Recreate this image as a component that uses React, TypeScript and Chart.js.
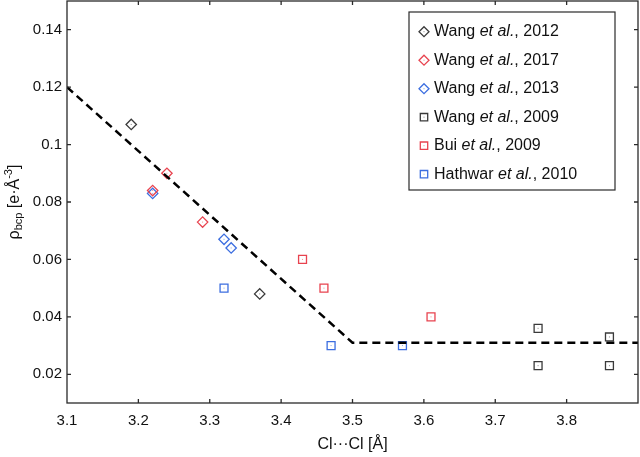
import React, { useEffect, useRef } from "react";
import { Chart, registerables } from "chart.js";

Chart.register(...registerables);

// ---- data ----
const wang2012 = [
  { x: 3.19, y: 0.107 },
  { x: 3.37, y: 0.048 },
];
const wang2017 = [
  { x: 3.24, y: 0.09 },
  { x: 3.22, y: 0.084 },
  { x: 3.29, y: 0.073 },
];
const wang2013 = [
  { x: 3.22, y: 0.083 },
  { x: 3.32, y: 0.067 },
  { x: 3.33, y: 0.064 },
];
const wang2009 = [
  { x: 3.76, y: 0.036 },
  { x: 3.76, y: 0.023 },
  { x: 3.86, y: 0.033 },
  { x: 3.86, y: 0.023 },
];
const bui2009 = [
  { x: 3.43, y: 0.06 },
  { x: 3.46, y: 0.05 },
  { x: 3.61, y: 0.04 },
];
const hathwar2010 = [
  { x: 3.32, y: 0.05 },
  { x: 3.47, y: 0.03 },
  { x: 3.57, y: 0.03 },
];
const fitLine = [
  { x: 3.1, y: 0.12 },
  { x: 3.5, y: 0.031 },
  { x: 3.9, y: 0.031 },
];

const xTickValues = [3.1, 3.2, 3.3, 3.4, 3.5, 3.6, 3.7, 3.8];
const yTickValues = [0.02, 0.04, 0.06, 0.08, 0.1, 0.12, 0.14];

const legendAuthors = ["Wang", "Wang", "Wang", "Wang", "Bui", "Hathwar"];
const legendYears = ["2012", "2017", "2013", "2009", "2009", "2010"];

const BLACK = "#3a3a3a";
const RED = "#e8434f";
const BLUE = "#3c6ee0";
const FONT = "'Liberation Sans', Arial, sans-serif";

const seriesStyles = [
  { color: BLACK, shape: "diamond" },
  { color: RED, shape: "diamond" },
  { color: BLUE, shape: "diamond" },
  { color: BLACK, shape: "square" },
  { color: RED, shape: "square" },
  { color: BLUE, shape: "square" },
];

function drawMarker(ctx: CanvasRenderingContext2D, shape: string, x: number, y: number, color: string, r: number) {
  ctx.save();
  ctx.strokeStyle = color;
  ctx.lineWidth = 1.3;
  ctx.beginPath();
  if (shape === "diamond") {
    ctx.moveTo(x, y - r);
    ctx.lineTo(x + r, y);
    ctx.lineTo(x, y + r);
    ctx.lineTo(x - r, y);
    ctx.closePath();
  } else {
    ctx.rect(x - r, y - r, 2 * r, 2 * r);
  }
  ctx.stroke();
  ctx.fillStyle = color;
  ctx.globalAlpha = 0.6;
  ctx.fillRect(x - 0.5, y - 0.5, 1, 1);
  ctx.restore();
}

const framePlugin = {
  id: "frame",
  afterDatasetsDraw(chart: any) {
    const { ctx, chartArea: a, scales } = chart;
    ctx.save();
    // center dots of markers
    chart.data.datasets.forEach((ds: any, i: number) => {
      if (ds.showLine) return;
      const meta = chart.getDatasetMeta(i);
      ctx.fillStyle = ds.borderColor;
      ctx.globalAlpha = 0.6;
      meta.data.forEach((el: any) => ctx.fillRect(el.x - 0.5, el.y - 0.5, 1, 1));
    });
    ctx.globalAlpha = 1;
    ctx.strokeStyle = "#2a2a2a";
    ctx.lineWidth = 1.3;
    ctx.strokeRect(a.left, a.top, a.right - a.left, a.bottom - a.top);
    const tl = 4;
    ctx.beginPath();
    scales.x.ticks.forEach((t: any) => {
      const px = scales.x.getPixelForValue(t.value);
      if (px <= a.left + 1 || px >= a.right - 1) return;
      ctx.moveTo(px, a.bottom);
      ctx.lineTo(px, a.bottom - tl);
      ctx.moveTo(px, a.top);
      ctx.lineTo(px, a.top + tl);
    });
    scales.y.ticks.forEach((t: any) => {
      const py = scales.y.getPixelForValue(t.value);
      if (py <= a.top + 1 || py >= a.bottom - 1) return;
      ctx.moveTo(a.left, py);
      ctx.lineTo(a.left + tl, py);
      ctx.moveTo(a.right, py);
      ctx.lineTo(a.right - tl, py);
    });
    ctx.stroke();
    ctx.restore();
  },
  afterDraw(chart: any) {
    const { ctx, chartArea: a } = chart;
    ctx.save();
    // ---- legend ----
    const bx = 409, by = 12, bw = 206, bh = 178;
    ctx.fillStyle = "#fff";
    ctx.fillRect(bx, by, bw, bh);
    ctx.strokeStyle = "#2a2a2a";
    ctx.lineWidth = 1.2;
    ctx.strokeRect(bx, by, bw, bh);
    ctx.textBaseline = "middle";
    ctx.fillStyle = "#111";
    legendAuthors.forEach((name, i) => {
      const y = 31.7 + i * 28.5;
      const st = seriesStyles[i];
      drawMarker(ctx, st.shape, 424, y, st.color, st.shape === "diamond" ? 5 : 3.7);
      let x = 434;
      ctx.fillStyle = "#111";
      ctx.font = `16px ${FONT}`;
      ctx.textAlign = "left";
      ctx.fillText(name + " ", x, y);
      x += ctx.measureText(name + " ").width;
      ctx.font = `italic 16px ${FONT}`;
      ctx.fillText("et al.", x, y);
      x += ctx.measureText("et al.").width;
      ctx.font = `16px ${FONT}`;
      ctx.fillText(", " + legendYears[i], x, y);
    });
    // ---- y axis title ----
    ctx.translate(15, (a.top + a.bottom) / 2);
    ctx.rotate(-Math.PI / 2);
    const big = `16px ${FONT}`;
    const small = `11px ${FONT}`;
    const parts = [
      { t: "ρ", f: big, dy: 0 },
      { t: "bcp", f: small, dy: 4 },
      { t: " [e·Å", f: big, dy: 0 },
      { t: "-3", f: small, dy: -6 },
      { t: "]", f: big, dy: 0 },
    ];
    let total = 0;
    parts.forEach((p) => {
      ctx.font = p.f;
      total += ctx.measureText(p.t).width;
    });
    let cx = -total / 2;
    ctx.textAlign = "left";
    ctx.textBaseline = "middle";
    ctx.fillStyle = "#111";
    parts.forEach((p) => {
      ctx.font = p.f;
      ctx.fillText(p.t, cx, p.dy);
      cx += ctx.measureText(p.t).width;
    });
    ctx.restore();
  },
};

function fmt(v: number) {
  return String(Math.round(v * 100) / 100);
}

export default function App() {
  const ref = useRef<HTMLCanvasElement | null>(null);
  useEffect(() => {
    if (!ref.current) return;
    const mk = (label: string, data: any[], i: number) => ({
      label,
      data,
      borderColor: seriesStyles[i].color,
      backgroundColor: "rgba(0,0,0,0)",
      pointStyle: seriesStyles[i].shape === "diamond" ? "rectRot" : "rect",
      pointRadius: seriesStyles[i].shape === "diamond" ? 5.2 : 5.6,
      pointBorderWidth: 1.3,
      pointHoverRadius: 5,
      showLine: false,
    });
    const chart = new Chart(ref.current, {
      type: "scatter",
      data: {
        datasets: [
          {
            label: "fit",
            data: fitLine,
            showLine: true,
            borderColor: "#000",
            borderWidth: 2.5,
            borderDash: [8, 5],
            pointRadius: 0,
            fill: false,
          } as any,
          mk("Wang et al., 2012", wang2012, 0),
          mk("Wang et al., 2017", wang2017, 1),
          mk("Wang et al., 2013", wang2013, 2),
          mk("Wang et al., 2009", wang2009, 3),
          mk("Bui et al., 2009", bui2009, 4),
          mk("Hathwar et al., 2010", hathwar2010, 5),
        ],
      },
      options: {
        responsive: false,
        animation: false,
        layout: { autoPadding: false, padding: { top: 1, right: 2, bottom: 0, left: 0 } },
        plugins: { legend: { display: false }, tooltip: { enabled: false } },
        scales: {
          x: {
            type: "linear",
            min: 3.1,
            max: 3.9,
            grid: { display: false, drawTicks: false },
            border: { display: false },
            afterBuildTicks: (s: any) => {
              s.ticks = xTickValues.map((v) => ({ value: v }));
            },
            ticks: {
              padding: 9,
              color: "#111",
              font: { family: FONT, size: 15 },
              callback: (v: any) => fmt(v),
              maxRotation: 0,
              autoSkip: false,
            },
            title: {
              display: true,
              text: "Cl···Cl [Å]",
              color: "#111",
              font: { family: FONT, size: 16 },
              padding: { top: 0, bottom: 3 },
            },
            afterFit: (s: any) => {
              s.height = 54;
              s.paddingLeft = 0;
              s.paddingRight = 0;
            },
          },
          y: {
            type: "linear",
            min: 0.01,
            max: 0.15,
            grid: { display: false, drawTicks: false },
            border: { display: false },
            afterBuildTicks: (s: any) => {
              s.ticks = yTickValues.map((v) => ({ value: v }));
            },
            ticks: {
              padding: 5,
              color: "#111",
              font: { family: FONT, size: 15 },
              callback: (v: any) => fmt(v),
              autoSkip: false,
            },
            afterFit: (s: any) => {
              s.width = 67;
              s.paddingTop = 0;
              s.paddingBottom = 0;
            },
          },
        },
      },
      plugins: [framePlugin],
    } as any);
    return () => chart.destroy();
  }, []);
  return (
    <div style={{ position: "absolute", left: 0, top: 0, width: 640, height: 457, background: "#fff" }}>
      <canvas ref={ref} width={640} height={457} style={{ display: "block" }} />
    </div>
  );
}
